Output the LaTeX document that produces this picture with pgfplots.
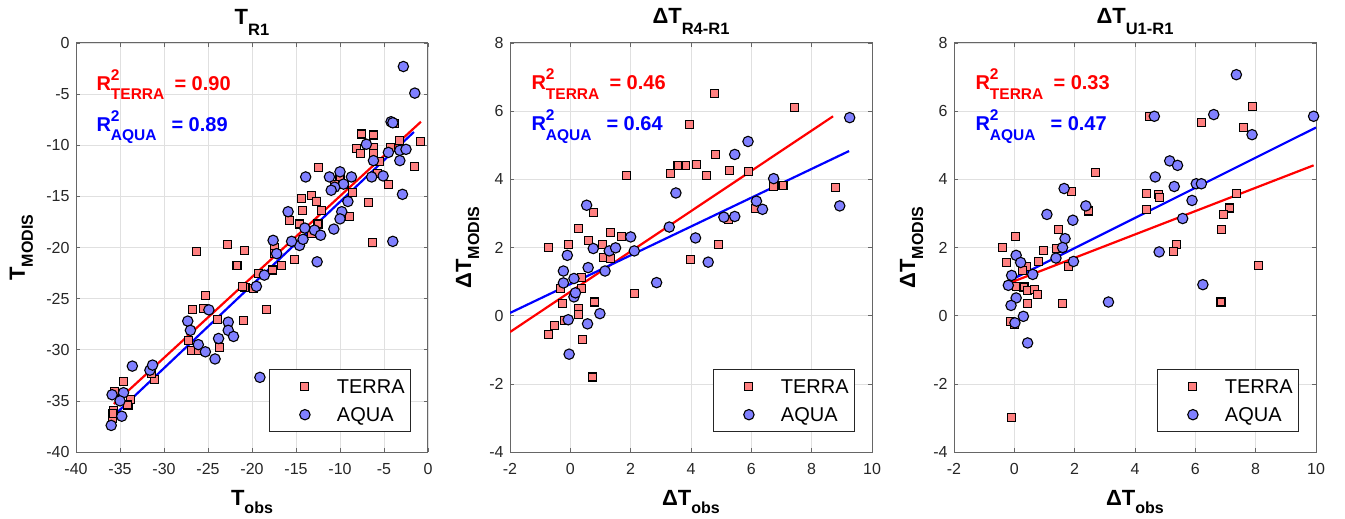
\documentclass[border=0pt]{standalone}
\usepackage{fontspec}
\setmainfont{Liberation Sans}
\usepackage{pgfplots}
\pgfplotsset{compat=1.18}
\definecolor{terrafill}{rgb}{1,0.5,0.5}
\definecolor{aquafill}{rgb}{0.5,0.5,1}
\newcommand{\fs}[1]{\fontsize{#1bp}{#1bp}\selectfont}
\newcommand{\Rsq}[1]{R\rlap{\raisebox{10bp}{\fs{15.5}2}}\raisebox{-9.3bp}{\fs{15.5}#1}}
\pgfplotsset{
  mat/.style={
    scale only axis, height=409bp,
    axis line style={black!60, line width=1bp},
    major tick style={black!60, line width=0.6bp},
    major tick length=4bp,
    grid=major, grid style={black!12, line width=0.6bp},
    tick label style={font=\fs{16}, text=black!85},
    /pgf/number format/assume math mode=true,
    xticklabel style={yshift=-8bp},
    yticklabel style={xshift=-3bp},
    every axis title/.style={at={([yshift=19bp]axis description cs:0.5,1)}, anchor=base, font=\fs{22}\bfseries},
    every axis x label/.style={at={([yshift=-53bp]axis description cs:0.5,0)}, anchor=base, font=\fs{22}\bfseries},
    every axis legend/.style={
      at={([xshift=-17bp,yshift=20bp]axis description cs:1,0)}, anchor=south east,
      shape=rectangle, fill=white, draw=black!85, line width=0.6bp,
      inner xsep=6bp, inner ysep=10bp,
      cells={anchor=west},
      nodes={inner sep=0pt, text height=14bp, text depth=0bp, font=\fs{20}},
      row sep=14bp,
    },
  },
  terra/.style={only marks, mark=square*, mark size=4bp,
    mark options={fill=terrafill, draw=black, line width=1.1bp},
    legend image code/.code={\path[draw=none,fill=none] (0bp,0bp) -- (62bp,0bp); \draw[##1] plot coordinates {(30bp,0bp)};}},
  aqua/.style={only marks, mark=*, mark size=5.2bp,
    mark options={fill=aquafill, draw=black, line width=1.1bp},
    legend image code/.code={\path[draw=none,fill=none] (0bp,0bp) -- (62bp,0bp); \draw[##1] plot coordinates {(30bp,0bp)};}},
  fitr/.style={red, line width=2.2bp, no marks, forget plot},
  fitb/.style={blue, line width=2.2bp, no marks, forget plot},
}
\begin{document}
\begin{tikzpicture}
\path[use as bounding box] (0,0) rectangle (1345bp,519bp);
% ---------------- Panel 1 ----------------
\begin{axis}[mat, at={(76bp,67bp)}, anchor=south west, width=352bp,
  xmin=-40, xmax=0, ymin=-40, ymax=0, xtick={-40,-35,...,0}, ytick={-40,-35,...,0},
  title={T\raisebox{-11bp}{\fs{16.5}R1}},
  xlabel={T\raisebox{-8bp}{\fs{16}obs}},
  every axis y label/.style={at={([xshift=-51bp]axis description cs:0,0.5)}, rotate=90, anchor=base, font=\fs{22}\bfseries},
  ylabel={T\raisebox{-8bp}{\fs{16}MODIS}}]
\addplot[terra] coordinates {
(-0.87,-9.6) (-1.5,-12.1) (-3.8,-7.9) (-3.2,-9.5) (-4.3,-10.2) (-4.5,-13.8) (-5.7,-12.8) (-5.5,-11.6)
(-6.2,-10.2) (-6.2,-9.0) (-7.6,-8.9) (-8.1,-10.3) (-7.7,-10.8) (-6.2,-10.8) (-6.8,-15.6) (-6.3,-19.5)
(-8.6,-14.6) (-8.9,-17.0) (-9.5,-13.8) (-10.0,-13.3) (-10.6,-13.8) (-12.4,-12.2) (-13.2,-14.9) (-12.7,-15.5)
(-14.4,-15.2) (-14.3,-16.4) (-12.1,-16.4) (-15.7,-17.4) (-14.6,-17.7) (-13.2,-18.6) (-12.5,-17.7)
(-17.4,-20.0) (-17.4,-20.6) (-15.2,-21.2) (-16.6,-21.8) (-17.7,-22.2) (-19.3,-22.5) (-19.8,-24.0)
(-20.8,-23.9) (-21.1,-23.8) (-18.4,-26.1) (-21.0,-27.1) (-21.7,-21.8) (-22.8,-19.7) (-20.9,-20.3) (-26.3,-20.4)
(-25.3,-24.7) (-26.8,-26.1) (-25.5,-26.0) (-23.9,-27.0) (-27.2,-29.1) (-26.9,-30.1) (-26.1,-30.1)
(-23.7,-29.8) (-31.1,-32.9) (-31.4,-32.3) (-34.6,-33.1) (-35.6,-34.1) (-35.7,-35.9) (-34.0,-35.4)
(-33.8,-34.9) (-35.9,-36.7) (-35.8,-36.2) (-34.1,-35.4)
};
\addlegendentry{TERRA}
\addplot[aqua] coordinates {
(-2.8,-2.3) (-1.5,-4.9) (-4.2,-7.7) (-4.0,-7.8) (-7.0,-9.9) (-4.5,-10.7) (-3.2,-10.5) (-2.5,-10.4)
(-3.2,-11.5) (-6.4,-13.1) (-5.1,-13.0) (-6.2,-11.5) (-2.9,-14.8) (-4.0,-19.4) (-10.0,-12.6) (-9.6,-13.8)
(-11.2,-13.1) (-10.6,-14.1) (-11.0,-14.4) (-9.1,-15.5) (-8.7,-13.1) (-9.8,-16.5) (-10.0,-17.2)
(-10.7,-18.2) (-13.9,-13.1) (-15.9,-16.5) (-14.0,-18.1) (-12.9,-18.3) (-12.2,-18.8) (-12.6,-21.4)
(-14.6,-19.8) (-14.2,-19.2) (-15.5,-19.4) (-17.6,-19.3) (-17.2,-20.6) (-18.6,-22.7) (-19.5,-23.8)
(-19.1,-32.7) (-27.3,-27.2) (-27.0,-28.1) (-24.9,-26.1) (-23.8,-28.9) (-22.7,-27.3) (-22.7,-28.1)
(-22.1,-28.7) (-26.1,-29.5) (-25.3,-30.2) (-24.2,-30.9) (-31.6,-32.0) (-31.3,-31.5) (-33.6,-31.6)
(-35.9,-34.4) (-34.6,-34.2) (-35.0,-35.0) (-34.8,-36.5) (-36.0,-37.4)
};
\addlegendentry{AQUA}
\addplot[fitr] coordinates {(-35.7,-35.3) (-0.8,-7.7)};
\addplot[fitb] coordinates {(-35.9,-36.6) (-1.6,-8.7)};
\node[anchor=base west, text=red, font=\fs{20}\bfseries] at ([xshift=17bp,yshift=-47bp]rel axis cs:0,1) {\Rsq{TERRA}};
\node[anchor=base west, text=red, font=\fs{20}\bfseries] at ([xshift=95bp,yshift=-47bp]rel axis cs:0,1) {= 0.90};
\node[anchor=base west, text=blue, font=\fs{20}\bfseries] at ([xshift=17bp,yshift=-88bp]rel axis cs:0,1) {\Rsq{AQUA}};
\node[anchor=base west, text=blue, font=\fs{20}\bfseries] at ([xshift=92bp,yshift=-88bp]rel axis cs:0,1) {= 0.89};
\end{axis}
% ---------------- Panel 2 ----------------
\begin{axis}[mat, at={(510bp,67bp)}, anchor=south west, width=362bp,
  xmin=-2, xmax=10, ymin=-4, ymax=8, xtick={-2,0,...,10}, ytick={-4,-2,...,8},
  title={ΔT\raisebox{-11bp}{\fs{16.5}R4-R1}},
  xlabel={ΔT\raisebox{-8bp}{\fs{16}obs}},
  every axis y label/.style={at={([xshift=-39bp]axis description cs:0,0.5)}, rotate=90, anchor=base, font=\fs{22}\bfseries},
  ylabel={ΔT\raisebox{-8bp}{\fs{16}MODIS}}]
\addplot[terra] coordinates {
(4.77,6.53) (7.44,6.12) (3.94,5.61) (4.82,4.72) (5.28,4.26) (5.92,4.23) (4.18,4.44) (3.82,4.41)
(3.57,4.41) (3.32,4.17) (4.51,4.10) (1.86,4.10) (7.05,3.82) (6.72,3.78) (8.79,3.76) (6.15,3.14)
(5.23,2.82) (4.92,2.09) (3.98,1.64) (0.76,3.02) (0.28,2.55) (-0.73,2.0) (-0.07,2.09) (0.59,2.21)
(1.06,2.08) (1.33,2.45) (1.70,2.31) (1.09,1.70) (1.34,1.67) (2.12,0.65) (0.81,0.40) (0.28,0.22)
(0.26,0.04) (-0.27,0.37) (0.37,0.81) (0.37,1.11) (-0.34,0.79) (-0.20,-0.14) (-0.53,-0.30)
(-0.73,-0.55) (0.41,-0.69) (0.74,-1.80)
};
\addlegendentry{TERRA}
\addplot[aqua] coordinates {
(9.26,5.81) (5.89,5.11) (5.45,4.73) (6.74,4.02) (3.50,3.60) (6.17,3.36) (6.37,3.12) (8.93,3.22)
(5.09,2.89) (5.45,2.91) (3.28,2.60) (4.15,2.28) (4.57,1.57) (2.86,0.97) (2.0,2.31) (2.12,1.90)
(0.54,3.24) (-0.10,1.77) (0.76,1.97) (1.29,1.90) (1.50,1.99) (0.59,1.41) (1.15,1.31) (-0.23,1.31)
(-0.23,0.96) (0.12,1.09) (0.12,0.55) (0.17,0.67) (0.98,0.06) (-0.07,-0.12) (0.57,-0.24) (-0.04,-1.13)
};
\addlegendentry{AQUA}
\addplot[fitr] coordinates {(-2,-0.48) (8.71,5.85)};
\addplot[fitb] coordinates {(-2,0.08) (9.24,4.83)};
\node[anchor=base west, text=red, font=\fs{20}\bfseries] at ([xshift=18bp,yshift=-47bp]rel axis cs:0,1) {\Rsq{TERRA}};
\node[anchor=base west, text=red, font=\fs{20}\bfseries] at ([xshift=96bp,yshift=-47bp]rel axis cs:0,1) {= 0.46};
\node[anchor=base west, text=blue, font=\fs{20}\bfseries] at ([xshift=18bp,yshift=-88bp]rel axis cs:0,1) {\Rsq{AQUA}};
\node[anchor=base west, text=blue, font=\fs{20}\bfseries] at ([xshift=93bp,yshift=-88bp]rel axis cs:0,1) {= 0.64};
\end{axis}
% ---------------- Panel 3 ----------------
\begin{axis}[mat, at={(954bp,67bp)}, anchor=south west, width=362bp,
  xmin=-2, xmax=10, ymin=-4, ymax=8, xtick={-2,0,...,10}, ytick={-4,-2,...,8},
  title={ΔT\raisebox{-11bp}{\fs{16.5}U1-R1}},
  xlabel={ΔT\raisebox{-8bp}{\fs{16}obs}},
  every axis y label/.style={at={([xshift=-39bp]axis description cs:0,0.5)}, rotate=90, anchor=base, font=\fs{22}\bfseries},
  ylabel={ΔT\raisebox{-8bp}{\fs{16}MODIS}}]
\addplot[terra] coordinates {
(7.88,6.14) (4.48,5.85) (6.20,5.66) (7.60,5.52) (2.68,4.21) (1.90,3.63) (4.39,3.58) (4.78,3.56)
(4.80,3.46) (7.36,3.58) (2.46,3.07) (4.39,3.12) (7.14,3.16) (6.94,2.96) (6.88,2.53) (5.39,2.08)
(5.28,1.87) (8.08,1.48) (6.85,0.40) (0.04,2.31) (-0.38,2.0) (-0.25,1.55) (1.46,2.52) (1.39,1.97)
(0.96,1.90) (0.80,1.59) (0.39,1.45) (0.28,1.33) (1.79,1.43) (0.06,0.86) (0.32,0.84) (0.43,0.74)
(0.67,0.76) (0.78,0.63) (0.43,0.35) (1.59,0.37) (-0.12,-0.16) (0.02,-0.26) (-0.09,-2.99)
};
\addlegendentry{TERRA}
\addplot[aqua] coordinates {
(7.36,7.07) (9.92,5.85) (4.64,5.85) (6.61,5.90) (7.88,5.31) (5.15,4.54) (5.41,4.41) (4.67,4.07)
(5.30,3.79) (6.03,3.87) (6.20,3.87) (5.89,3.38) (5.58,2.85) (4.80,1.87) (6.25,0.91) (3.12,0.40)
(1.65,3.73) (1.08,2.97) (2.37,3.22) (1.94,2.80) (1.68,2.26) (1.60,2.0) (1.38,1.69) (1.96,1.59)
(0.61,1.21) (0.06,1.77) (0.21,1.56) (-0.09,1.18) (-0.20,0.89) (0.06,0.52) (-0.11,0.30) (0.30,-0.02)
(0.02,-0.21) (0.44,-0.80)
};
\addlegendentry{AQUA}
\addplot[fitr] coordinates {(-0.36,0.89) (9.92,4.41)};
\addplot[fitb] coordinates {(-0.31,0.96) (10,5.52)};
\node[anchor=base west, text=red, font=\fs{20}\bfseries] at ([xshift=18bp,yshift=-47bp]rel axis cs:0,1) {\Rsq{TERRA}};
\node[anchor=base west, text=red, font=\fs{20}\bfseries] at ([xshift=96bp,yshift=-47bp]rel axis cs:0,1) {= 0.33};
\node[anchor=base west, text=blue, font=\fs{20}\bfseries] at ([xshift=18bp,yshift=-88bp]rel axis cs:0,1) {\Rsq{AQUA}};
\node[anchor=base west, text=blue, font=\fs{20}\bfseries] at ([xshift=93bp,yshift=-88bp]rel axis cs:0,1) {= 0.47};
\end{axis}
\end{tikzpicture}
\end{document}
